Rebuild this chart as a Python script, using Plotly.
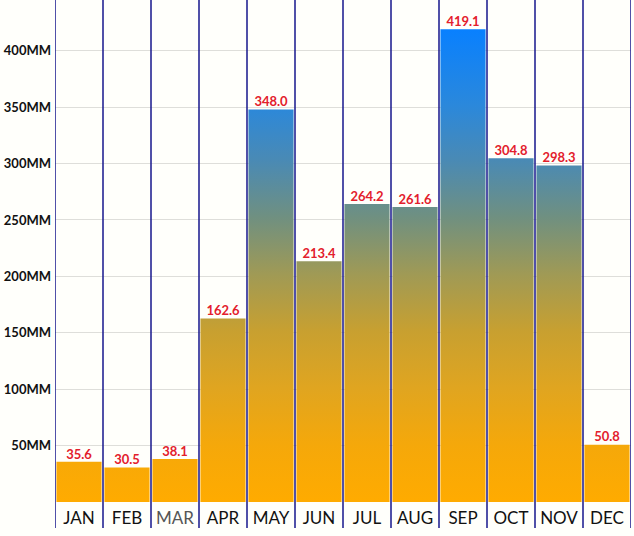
import plotly.graph_objects as go

# monthly rainfall values
months = ["JAN", "FEB", "MAR", "APR", "MAY", "JUN",
          "JUL", "AUG", "SEP", "OCT", "NOV", "DEC"]
rain = [35.6, 30.5, 38.1, 162.6, 348.0, 213.4,
        264.2, 261.6, 419.1, 304.8, 298.3, 50.8]
ytick_vals = [50, 100, 150, 200, 250, 300, 350, 400]
ytick_text = [f"{v}MM" for v in ytick_vals]

# orange at the bottom, blue at the top (in data units)
grad = [[0.0, "#ffab00"], [0.12, "#f5a80a"], [0.24, "#e0a520"],
        [0.36, "#c8a030"], [0.48, "#a09a55"], [0.6, "#709080"],
        [0.72, "#4a8ab4"], [0.84, "#2a88dc"], [1.0, "#0880ff"]]

bar_w = 0.94

fig = go.Figure()

for i, v in enumerate(rain):
    x0, x1 = i - bar_w / 2, i + bar_w / 2
    fig.add_trace(go.Scatter(
        x=[x0, x1, x1, x0, x0], y=[0, 0, v, v, 0],
        mode="lines", fill="toself", line=dict(width=0),
        fillgradient=dict(type="vertical", colorscale=grad, start=0, stop=420),
        hoverinfo="skip", showlegend=False))

# value labels above bars
fig.add_trace(go.Scatter(
    x=list(range(len(months))), y=rain, mode="text",
    text=[f"{v:.1f}" for v in rain], textposition="top center",
    textfont=dict(family="Lato", size=13, color="#e3202c", weight="bold"),
    hoverinfo="skip", showlegend=False))

# navy separators between months
for k in range(len(months) + 1):
    fig.add_shape(type="line", xref="x", yref="paper",
                  x0=k - 0.5, x1=k - 0.5, y0=-0.052, y1=1,
                  line=dict(color="#16168c", width=1.5))

ticktext = [m if m != "MAR" else "<span style='color:#555'>MAR</span>" for m in months]

fig.update_layout(
    width=634, height=536,
    margin=dict(l=55, r=3, t=0, b=34),
    paper_bgcolor="#fffffb", plot_bgcolor="#fffffb",
    xaxis=dict(range=[-0.5, 11.5], tickvals=list(range(12)), ticktext=ticktext,
               showgrid=False, zeroline=False, showline=False, ticks="",
               ticklabelstandoff=4, automargin=False,
               tickfont=dict(family="Lato", size=17, color="#111")),
    yaxis=dict(range=[0, 445], tickvals=ytick_vals, ticktext=ytick_text,
               showgrid=True, gridcolor="rgba(0,0,0,0.13)", gridwidth=1,
               zeroline=False, showline=False, ticks="", layer="above traces",
               automargin=False, ticklabelstandoff=3,
               tickfont=dict(family="Lato", size=13, color="#111", weight="bold")),
)

# drop the default page margin so the chart sits at the window's corner
fig.write_html("out.html", config={"displayModeBar": False},
               post_script="document.body.style.margin='0px';")
